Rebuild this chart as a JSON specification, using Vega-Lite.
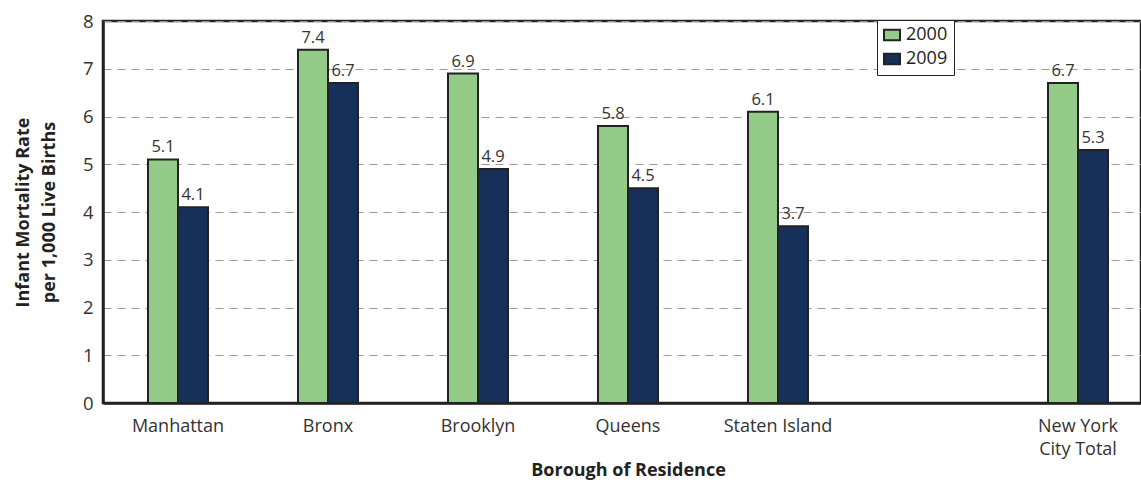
{
  "$schema": "https://vega.github.io/schema/vega-lite/v6.json",
  "width": 1038,
  "height": 382,
  "autosize": {"type": "none"},
  "padding": {"left": 103, "top": 21, "right": 0, "bottom": 79},
  "config": {
    "font": "Open Sans",
    "view": {"stroke": "#222", "strokeWidth": 2.5}
  },
  "data": {
    "values": [
      {"borough": "Manhattan", "year": "2000", "rate": 5.1},
      {"borough": "Manhattan", "year": "2009", "rate": 4.1},
      {"borough": "Bronx", "year": "2000", "rate": 7.4},
      {"borough": "Bronx", "year": "2009", "rate": 6.7},
      {"borough": "Brooklyn", "year": "2000", "rate": 6.9},
      {"borough": "Brooklyn", "year": "2009", "rate": 4.9},
      {"borough": "Queens", "year": "2000", "rate": 5.8},
      {"borough": "Queens", "year": "2009", "rate": 4.5},
      {"borough": "Staten Island", "year": "2000", "rate": 6.1},
      {"borough": "Staten Island", "year": "2009", "rate": 3.7},
      {"borough": "New York City Total", "year": "2000", "rate": 6.7},
      {"borough": "New York City Total", "year": "2009", "rate": 5.3}
    ]
  },
  "encoding": {
    "x": {
      "field": "borough",
      "type": "nominal",
      "sort": null,
      "scale": {
        "domain": ["Manhattan", "Bronx", "Brooklyn", "Queens", "Staten Island", " ", "New York City Total"],
        "range": [0, 1050],
        "paddingInner": 0.6,
        "paddingOuter": 0.3
      },
      "axis": {
        "title": "Borough of Residence",
        "titleFontSize": 18,
        "titleFontWeight": "bold",
        "titleColor": "#222",
        "titlePadding": 3,
        "labelFontSize": 18,
        "labelColor": "#333",
        "labelPadding": 14,
        "labelAngle": 0,
        "labelLineHeight": 23,
        "labelExpr": "datum.label == 'New York City Total' ? ['New York', 'City Total'] : datum.label",
        "ticks": false,
        "domainColor": "#222",
        "domainWidth": 2.5
      }
    },
    "xOffset": {
      "field": "year",
      "type": "nominal",
      "scale": {"paddingInner": 0, "paddingOuter": 0}
    },
    "y": {
      "field": "rate",
      "type": "quantitative",
      "scale": {"domain": [0, 8], "nice": false},
      "axis": {
        "title": ["Infant Mortality Rate", "per 1,000 Live Births"],
        "titleFontSize": 18,
        "titleFontWeight": "bold",
        "titleColor": "#222",
        "titleLineHeight": 26,
        "titlePadding": 24,
        "labelFontSize": 18.5,
        "labelColor": "#333",
        "labelPadding": 10,
        "ticks": false,
        "values": [0, 1, 2, 3, 4, 5, 6, 7, 8],
        "grid": true,
        "gridDash": [8, 6],
        "gridColor": "#999",
        "gridWidth": 1.2,
        "domainColor": "#222",
        "domainWidth": 2.5
      }
    }
  },
  "layer": [
    {
      "mark": {"type": "bar", "stroke": "#222", "strokeWidth": 2},
      "encoding": {
        "color": {
          "field": "year",
          "type": "nominal",
          "scale": {"domain": ["2000", "2009"], "range": ["#95cb88", "#17305a"]},
          "legend": {
            "title": null,
            "orient": "none",
            "legendX": 774,
            "legendY": -1,
            "fillColor": "white",
            "strokeColor": "#222",
            "padding": 6,
            "rowPadding": 4,
            "labelFontSize": 18,
            "labelColor": "#222",
            "labelOffset": 5,
            "symbolType": "M-1,-0.65H1V0.65H-1Z",
            "symbolSize": 256,
            "symbolStrokeColor": "#222",
            "symbolStrokeWidth": 2,
            "symbolOpacity": 1
          }
        }
      }
    },
    {
      "mark": {"type": "text", "baseline": "bottom", "dy": -4, "fontSize": 16.5, "color": "#333"},
      "encoding": {
        "text": {"field": "rate", "type": "quantitative", "format": ".1f"}
      }
    }
  ]
}
